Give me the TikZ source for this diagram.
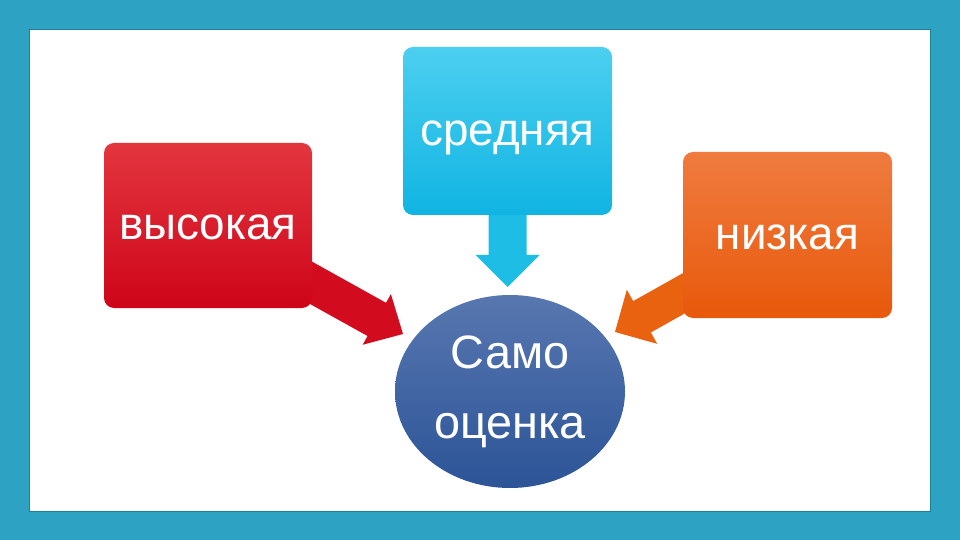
\documentclass[tikz,border=0pt]{standalone}
\usepackage{fontspec}
\setmainfont{Liberation Sans}
\usetikzlibrary{calc,shapes.geometric,backgrounds}

\definecolor{framecol}{HTML}{2EA2C2}
\definecolor{framedark}{HTML}{1E7F9B}
\definecolor{redtop}{HTML}{E3363F}
\definecolor{redbot}{HTML}{CE0519}
\definecolor{cyantop}{HTML}{4CCFF0}
\definecolor{cyanbot}{HTML}{10B4E2}
\definecolor{orangetop}{HTML}{EF7B3F}
\definecolor{orangebot}{HTML}{E8590B}
\definecolor{bluetop}{HTML}{5877B0}
\definecolor{bluebot}{HTML}{2C5497}
\definecolor{redarrow}{HTML}{D20B1E}
\definecolor{cyanarrow}{HTML}{1DBDE6}
\definecolor{orangearrow}{HTML}{E8620F}

% block arrow: from, tip, shaft half width, head half width, head length, colour
\newcommand\blockarrow[6]{%
  \fill[#6] ($(#1)!#3!90:(#2)$) -- ($(#2)!#5!(#1)!#3!-90:(#1)$)
    -- ($(#2)!#5!(#1)!#4!-90:(#1)$) -- (#2)
    -- ($(#2)!#5!(#1)!#4!90:(#1)$) -- ($(#2)!#5!(#1)!#3!90:(#1)$)
    -- ($(#1)!#3!-90:(#2)$) -- cycle;}

\tikzset{
  levelbox/.style={rounded corners=10bp, inner sep=0pt, text=white,
    text height=29bp, text depth=0pt,
    font=\fontsize{46}{52}\selectfont},
  selfnode/.style={ellipse, inner sep=0pt, text=white, align=center,
    minimum width=230bp, minimum height=193bp,
    top color=bluetop, bottom color=bluebot,
    font=\fontsize{47}{70}\selectfont}
}

\begin{document}
\begin{tikzpicture}[x=1bp,y=-1bp]
  \useasboundingbox (0,0) rectangle (960,540);
  \begin{scope}[on background layer]
    \fill[framecol] (0,0) rectangle (960,540);
    \fill[white] (29,29) rectangle (930,511);
    \draw[framedark, line width=.8bp] (29,29) rectangle (930,511);
  \end{scope}

  \node[levelbox, minimum width=208bp, minimum height=165bp,
    top color=redtop, bottom color=redbot] (high) at (208,225.5) {высокая};
  \node[levelbox, minimum width=209bp, minimum height=168bp,
    top color=cyantop, bottom color=cyanbot] (mid) at (507.5,131) {средняя};
  \node[levelbox, minimum width=209bp, minimum height=166bp,
    top color=orangetop, bottom color=orangebot] (low) at (787.5,235) {низкая};
  \node[selfnode] (self) at (510,391.5) {Само\\оценка};

  \coordinate (tiphigh) at (403,334);
  \coordinate (tipmid) at (507.5,287);
  \coordinate (tiplow) at (615,332);

  \begin{scope}[on background layer]
    \blockarrow{high.center}{tiphigh}{19bp}{29bp}{30bp}{redarrow}
    \blockarrow{mid.center}{tipmid}{19bp}{32bp}{32bp}{cyanarrow}
    \blockarrow{low.center}{tiplow}{18bp}{31bp}{31bp}{orangearrow}
  \end{scope}
\end{tikzpicture}
\end{document}
